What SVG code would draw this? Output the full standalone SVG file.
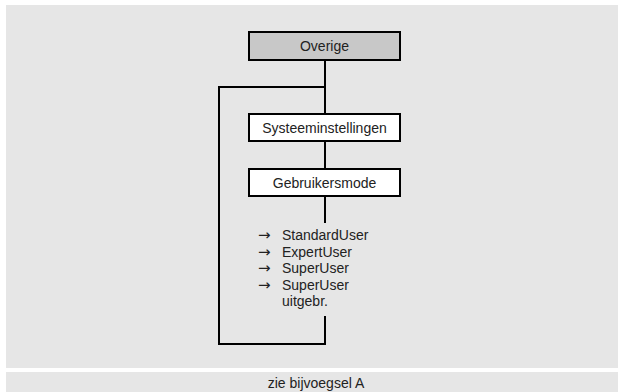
<svg xmlns="http://www.w3.org/2000/svg" width="618" height="392" viewBox="0 0 618 392">
<style>
.bg{fill:#e6e6e6}
.box{fill:#ffffff;stroke:#000;stroke-width:2}
.hdr{fill:#c8c8c8}
.t{font-family:"Liberation Sans",Arial,sans-serif;font-size:14px;fill:#222}
.a{font-family:"DejaVu Sans",sans-serif;font-size:15px}
.c{text-anchor:middle}
.ln{fill:none;stroke:#000;stroke-width:2}
</style>
<rect width="618" height="392" fill="#ffffff"/>
<rect class="bg" x="6" y="5" width="612" height="363"/>
<rect class="bg" x="6" y="372" width="612" height="20"/>
<g id="connectors">
<path class="ln" d="M325 60V114"/>
<path class="ln" d="M325 87H219V344H325V316"/>
<path class="ln" d="M325 141V169"/>
<path class="ln" d="M325 196V223"/>
</g>
<g id="overige">
<rect class="box hdr" x="249" y="32" width="151" height="28"/>
<text class="t c" x="324.5" y="51">Overige</text>
</g>
<g id="systeeminstellingen">
<rect class="box" x="249" y="114" width="151" height="27"/>
<text class="t c" x="324.5" y="132.5">Systeeminstellingen</text>
</g>
<g id="gebruikersmode">
<rect class="box" x="249" y="169" width="151" height="27"/>
<text class="t c" x="324.5" y="187.5">Gebruikersmode</text>
</g>
<g id="options">
<text class="t" x="258" y="240"><tspan class="a">→</tspan><tspan x="282">StandardUser</tspan></text>
<text class="t" x="258" y="256.5"><tspan class="a">→</tspan><tspan x="282">ExpertUser</tspan></text>
<text class="t" x="258" y="273"><tspan class="a">→</tspan><tspan x="282">SuperUser</tspan></text>
<text class="t" x="258" y="289.5"><tspan class="a">→</tspan><tspan x="282">SuperUser</tspan></text>
<text class="t" x="282" y="306">uitgebr.</text>
</g>
<g id="footer">
<text class="t c" x="316" y="388">zie bijvoegsel A</text>
</g>
</svg>
